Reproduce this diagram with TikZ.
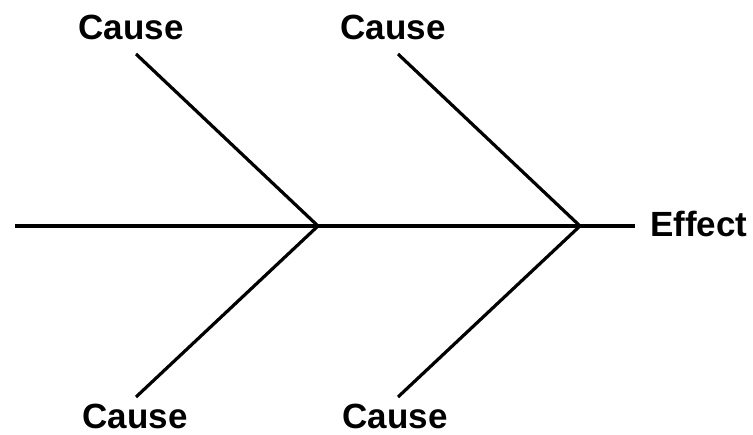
\documentclass[tikz,border=0pt]{standalone}
\usepackage{fontspec}
\setmainfont{Liberation Sans}
\begin{document}
\begin{tikzpicture}[
    x=1pt, y=-1pt,
    bone/.style={line width=3.2pt, black},
    causelbl/.style={font=\fontsize{35}{40}\selectfont\bfseries, inner sep=0pt, anchor=base}
]
\useasboundingbox (0,0) rectangle (753,435);

% Spine
\coordinate (tail) at (15,226);
\coordinate (head) at (635,226);
\coordinate (j1) at (318,226);
\coordinate (j2) at (580,226);
\draw[bone] (tail) -- (head);

% Bone ends
\coordinate (t1) at (136,54);
\coordinate (t2) at (398,54);
\coordinate (b1) at (136,397);
\coordinate (b2) at (398,397);

% Labels
\node[causelbl] (c1) at (131,40) {Cause};
\node[causelbl] (c2) at (393,40) {Cause};
\node[causelbl] (c3) at (135,429) {Cause};
\node[causelbl] (c4) at (395,429) {Cause};
\node[causelbl, anchor=base west] (effect) at (650,237) {Effect};

% Bones
\draw[bone] (t1) -- (j1) -- (b1);
\draw[bone] (t2) -- (j2) -- (b2);

\end{tikzpicture}
\end{document}
